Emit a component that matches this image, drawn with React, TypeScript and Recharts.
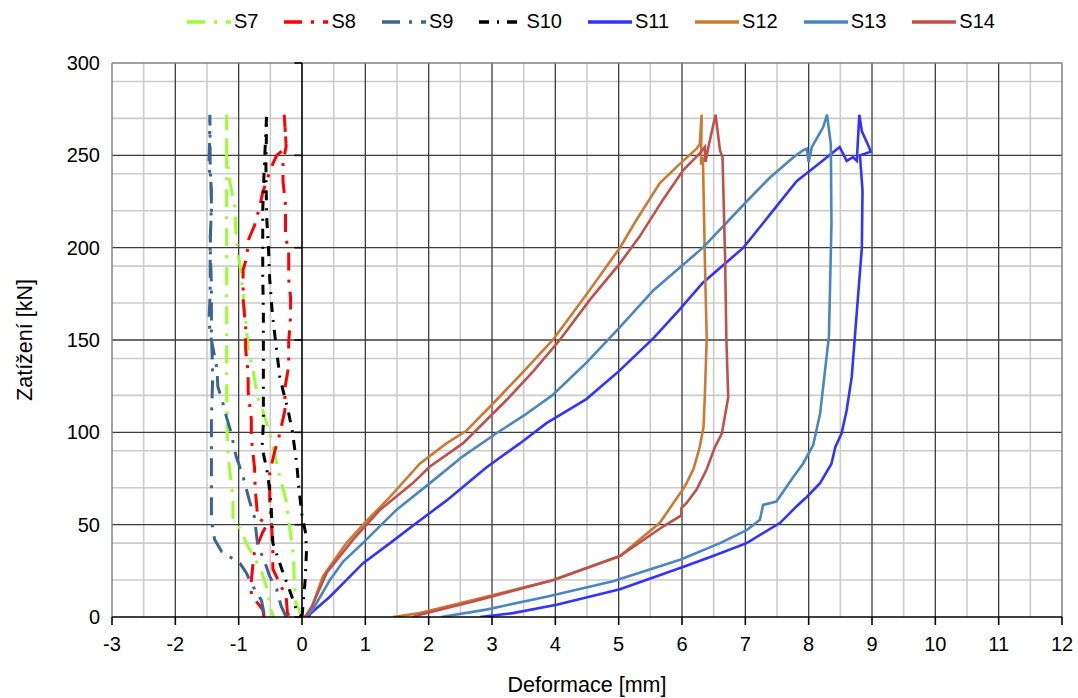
import React from "react";
import { LineChart, Line, XAxis, YAxis, CartesianGrid, ReferenceLine } from "recharts";

type Pt = [number, number];

// deformation [mm], load [kN]
const S7: Pt[] = [
  [0, 0], [-0.1, 8], [-0.12, 18], [-0.13, 28], [-0.15, 38], [-0.19, 47], [-0.25, 63],
  [-0.38, 80], [-0.48, 96], [-0.62, 112], [-0.7, 119], [-0.77, 133], [-0.85, 145],
  [-0.9, 165], [-0.96, 185], [-1.04, 205], [-1.06, 222], [-1.14, 236], [-1.19, 250],
  [-1.19, 272], [-1.19, 262], [-1.19, 244], [-1.19, 215], [-1.19, 195], [-1.19, 180],
  [-1.19, 150], [-1.19, 124], [-1.18, 96], [-1.16, 85], [-1.09, 65], [-1.09, 53],
  [-0.96, 47], [-0.88, 40], [-0.8, 35], [-0.64, 25], [-0.55, 15], [-0.5, 5], [-0.45, 0],
];

const S8: Pt[] = [
  [-0.6, 0], [-0.62, 4], [-0.8, 12], [-0.8, 20], [-0.77, 30], [-0.75, 35], [-0.62, 46],
  [-0.55, 50], [-0.7, 54], [-0.74, 70], [-0.75, 81], [-0.8, 97], [-0.8, 107], [-0.85, 122],
  [-0.85, 132], [-0.89, 145], [-0.89, 157], [-0.93, 172], [-0.93, 188], [-0.87, 195],
  [-0.85, 204], [-0.75, 212], [-0.67, 222], [-0.62, 230], [-0.54, 238], [-0.48, 244],
  [-0.4, 250], [-0.33, 252], [-0.25, 255], [-0.27, 266], [-0.28, 272], [-0.25, 255],
  [-0.3, 246], [-0.3, 236], [-0.26, 223], [-0.26, 206], [-0.21, 198], [-0.21, 183],
  [-0.18, 173], [-0.18, 163], [-0.21, 149], [-0.21, 136], [-0.27, 124], [-0.27, 112],
  [-0.36, 98], [-0.43, 90], [-0.51, 78], [-0.51, 63], [-0.48, 50], [-0.46, 35],
  [-0.46, 26], [-0.35, 18], [-0.25, 11], [-0.23, 2], [-0.2, 0],
];

const S9: Pt[] = [
  [-0.25, 0], [-0.33, 6], [-0.4, 15], [-0.51, 22], [-0.59, 30], [-0.7, 39], [-0.75, 54],
  [-0.83, 63], [-0.93, 76], [-1.04, 87], [-1.12, 100], [-1.19, 108], [-1.25, 116],
  [-1.33, 125], [-1.34, 134], [-1.43, 150], [-1.47, 160], [-1.45, 175], [-1.45, 190],
  [-1.45, 205], [-1.43, 220], [-1.43, 232], [-1.47, 245], [-1.46, 255], [-1.455, 272],
  [-1.45, 255], [-1.45, 244], [-1.43, 225], [-1.45, 200], [-1.43, 180], [-1.43, 155],
  [-1.41, 130], [-1.43, 108], [-1.43, 90], [-1.43, 70], [-1.43, 53], [-1.38, 42],
  [-1.27, 35.5], [-0.98, 29], [-0.88, 24], [-0.8, 18], [-0.64, 9], [-0.6, 2], [-0.58, 0],
];

const S10: Pt[] = [
  [0, 0], [0.05, 20], [0.07, 35], [0.06, 45], [0, 55], [-0.05, 70], [-0.08, 82],
  [-0.15, 100], [-0.22, 112], [-0.28, 120], [-0.35, 130], [-0.42, 150], [-0.47, 165],
  [-0.51, 183], [-0.53, 200], [-0.56, 218], [-0.57, 245], [-0.56, 265], [-0.56, 271],
  [-0.6, 240], [-0.62, 220], [-0.62, 200], [-0.62, 185], [-0.61, 165], [-0.61, 130],
  [-0.61, 105], [-0.63, 92], [-0.54, 77], [-0.49, 62], [-0.46, 40], [-0.3, 24],
  [-0.19, 14], [-0.08, 3], [0, 0],
];

const S11: Pt[] = [
  [0.1, 0], [0.14, 2], [0.44, 11], [0.7, 20], [0.96, 29], [1.39, 40], [1.77, 50],
  [2.28, 63], [2.91, 81], [3.44, 94], [3.86, 105], [4.49, 118], [5.0, 133], [5.55, 151],
  [5.95, 166], [6.33, 181], [6.97, 200], [7.39, 218], [7.81, 236], [8.18, 246],
  [8.49, 254.5], [8.6, 247], [8.7, 249], [8.76, 247], [8.8, 272], [8.84, 263],
  [8.94, 255.5], [8.98, 252], [8.81, 250], [8.85, 231], [8.84, 200], [8.73, 152],
  [8.68, 130], [8.6, 112], [8.52, 99.5], [8.42, 92], [8.36, 83], [8.18, 72.5], [7.97, 65],
  [7.81, 60], [7.55, 51], [7.02, 40], [6.49, 33], [5.97, 26.5], [5.02, 15], [4.02, 6.6],
  [3.33, 2.1], [2.81, 0],
];

const S12: Pt[] = [
  [0.03, 0], [0.12, 2], [0.33, 22], [0.7, 40], [0.99, 51], [1.39, 65], [1.86, 83],
  [2.28, 94], [2.6, 101], [3.07, 117.5], [3.5, 133], [3.96, 150], [4.5, 175], [5.02, 200],
  [5.28, 215], [5.65, 235], [5.97, 245.5], [6.23, 253.6], [6.28, 256], [6.31, 272],
  [6.3, 245], [6.33, 249], [6.36, 195], [6.39, 151], [6.36, 119], [6.34, 103], [6.28, 92],
  [6.18, 80], [6.05, 71], [5.65, 51], [5.02, 33], [3.97, 20], [2.91, 11], [1.86, 2.2],
  [1.44, 0],
];

const S13: Pt[] = [
  [0.05, 0], [0.17, 4], [0.44, 20], [0.65, 30], [0.96, 40], [1.49, 58], [2.02, 72.5],
  [2.54, 87], [3.07, 99.5], [3.5, 109], [3.95, 120], [4.5, 138], [5.02, 157],
  [5.55, 177], [6.33, 200], [7.02, 225], [7.39, 238], [7.76, 249], [7.91, 252.7],
  [7.97, 253.6], [8.0, 246.4], [8.05, 254.5], [8.23, 265.3], [8.29, 272], [8.35, 256],
  [8.36, 213], [8.32, 152], [8.26, 134], [8.18, 110], [8.07, 93], [7.91, 83], [7.76, 76],
  [7.49, 62.5], [7.28, 60.7], [7.23, 52.6], [7.02, 47], [6.6, 40], [5.97, 31],
  [4.91, 19.3], [3.86, 11], [2.91, 4], [2.2, 0],
];

const S14: Pt[] = [
  [0.05, 0], [0.16, 6], [0.39, 24], [0.81, 42], [1.23, 58], [1.75, 72.5], [2.02, 81.5],
  [2.54, 94], [3.23, 117.5], [3.65, 133], [4.07, 150], [4.55, 172], [5.02, 191.5],
  [5.33, 206], [5.7, 226], [6.02, 242], [6.28, 251], [6.36, 254.5], [6.37, 246.4],
  [6.42, 255], [6.53, 272], [6.6, 252.7], [6.64, 249], [6.68, 195], [6.7, 151],
  [6.73, 119], [6.63, 99.5], [6.52, 92], [6.39, 80], [6.23, 69], [6.07, 61.6], [5.99, 59],
  [5.99, 55], [5.7, 49], [5.02, 33], [3.97, 20], [2.81, 9.4], [1.86, 1.2], [1.75, 0],
];

const names = ["S7", "S8", "S9", "S10", "S11", "S12", "S13", "S14"];
const values: Pt[][] = [S7, S8, S9, S10, S11, S12, S13, S14];

const xTicks = [-3, -2, -1, 0, 1, 2, 3, 4, 5, 6, 7, 8, 9, 10, 11, 12];
const yTicks = [0, 50, 100, 150, 200, 250, 300];
const minorX = [-2.5, -1.5, -0.5, 0.5, 1.5, 2.5, 3.5, 4.5, 5.5, 6.5, 7.5, 8.5, 9.5, 10.5, 11.5];
const minorY = [10, 20, 30, 40, 60, 70, 80, 90, 110, 120, 130, 140, 160, 170, 180, 190, 210, 220, 230, 240, 260, 270, 280, 290];
const majorX = [-2, -1, 1, 2, 3, 4, 5, 6, 7, 8, 9, 10, 11];
const majorY = [50, 100, 150, 200, 250];

const styles: Record<string, { color: string; dash?: string; width: number }> = {
  S7: { color: "#99FF33", dash: "18 9 3 9", width: 3 },
  S8: { color: "#FF0000", dash: "18 9 3 9", width: 3 },
  S9: { color: "#3B6494", dash: "18 9 3 9", width: 3 },
  S10: { color: "#000000", dash: "10 8 2 8", width: 3 },
  S11: { color: "#3333FF", width: 2.6 },
  S12: { color: "#CC7A33", width: 2.6 },
  S13: { color: "#4A86C0", width: 2.6 },
  S14: { color: "#C0504D", width: 2.6 },
};

const FONT = "'Liberation Sans', Arial, sans-serif";

const Legend: React.FC = () => (
  <div
    style={{
      position: "absolute",
      left: 187,
      top: 10,
      display: "flex",
      alignItems: "center",
      fontFamily: FONT,
      fontSize: 20,
      color: "#000",
      whiteSpace: "nowrap",
    }}
  >
    {names.map((n) => (
      <div key={n} style={{ display: "flex", alignItems: "center", marginRight: 26 }}>
        <svg width={44} height={14}>
          <line
            x1={0}
            y1={7}
            x2={44}
            y2={7}
            stroke={styles[n].color}
            strokeWidth={3.5}
            strokeDasharray={styles[n].dash}
          />
        </svg>
        <span style={{ marginLeft: 3 }}>{n}</span>
      </div>
    ))}
  </div>
);

const App: React.FC = () => {
  return (
    <div style={{ position: "absolute", left: 0, top: 0, width: 1078, height: 698, background: "#fff" }}>
      <Legend />
      <LineChart width={1078} height={698} margin={{ top: 63, right: 16, bottom: 0, left: 0 }}>
        <CartesianGrid
          horizontalValues={minorY}
          verticalValues={minorX}
          stroke="#cccccc"
          strokeWidth={1.6}
        />
        <CartesianGrid
          horizontalValues={majorY}
          verticalValues={majorX}
          stroke="#3c3c3c"
          strokeWidth={1.3}
        />
        <CartesianGrid
          horizontalValues={[300]}
          verticalValues={[-3, 12]}
          stroke="#808080"
          strokeWidth={1.5}
        />
        <XAxis
          type="number"
          dataKey="x"
          domain={[-3, 12]}
          ticks={xTicks}
          allowDataOverflow
          height={81}
          axisLine={{ stroke: "#000", strokeWidth: 1.6 }}
          tickLine={{ stroke: "#000", strokeWidth: 1.6 }}
          tickSize={8}
          tickMargin={12}
          tick={{ fill: "#000", fontSize: 20, fontFamily: FONT }}
          label={{
            value: "Deformace [mm]",
            position: "insideBottom",
            offset: 6,
            style: { fill: "#000", fontSize: 21.5, fontFamily: FONT },
          }}
        />
        <YAxis
          type="number"
          domain={[0, 300]}
          ticks={yTicks}
          allowDataOverflow
          width={112}
          axisLine={false}
          tickLine={false}
          tickSize={8}
          tickMargin={4}
          tick={{ fill: "#000", fontSize: 20, fontFamily: FONT }}
          label={{
            value: "Zatížení [kN]",
            angle: -90,
            position: "insideLeft",
            offset: 24,
            style: { fill: "#000", fontSize: 21.5, fontFamily: FONT, textAnchor: "middle" },
          }}
        />
        <ReferenceLine x={0} stroke="#000" strokeWidth={1.6} />
        {yTicks.map((v) => (
          <ReferenceLine
            key={"t" + v}
            segment={[{ x: -0.12, y: v }, { x: 0, y: v }]}
            stroke="#000"
            strokeWidth={1.6}
          />
        ))}
        {names.map((n, i) => (
          <Line
            key={n}
            name={n}
            data={values[i].map(([x, y]) => ({ x, y }))}
            dataKey="y"
            type="linear"
            stroke={styles[n].color}
            strokeWidth={styles[n].width}
            strokeDasharray={styles[n].dash}
            dot={false}
            activeDot={false}
            isAnimationActive={false}
          />
        ))}
      </LineChart>
    </div>
  );
};

export default App;
